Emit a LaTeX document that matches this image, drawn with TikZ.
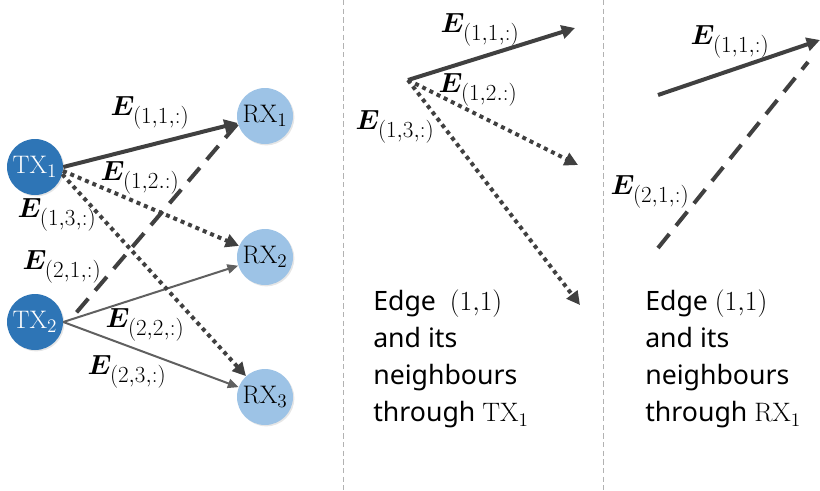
\documentclass[tikz,border=0pt]{standalone}
\usepackage{fontspec}
\usepackage{bm}
\usetikzlibrary{arrows.meta,shadows,calc}
\newfontfamily\labelsans{Noto Sans}
\DeclareMathSizes{22}{22}{17}{13}
\DeclareMathSizes{19}{19}{14}{11}
\DeclareMathSizes{20}{20}{15}{11}
\definecolor{txblue}{HTML}{2E75B6}
\definecolor{rxblue}{HTML}{9DC3E6}
\definecolor{edgegray}{HTML}{404040}
\definecolor{thingray}{HTML}{606060}
\begin{document}
\begin{tikzpicture}[x=0.75pt,y=-0.75pt,
  tx/.style={circle,fill=txblue,minimum size=42pt,inner sep=0pt,text=white,
    font=\fontsize{19}{23}\selectfont,drop shadow={opacity=0.2,shadow xshift=1pt,shadow yshift=-1pt}},
  rx/.style={circle,fill=rxblue,minimum size=42pt,inner sep=0pt,text=black,
    font=\fontsize{19}{23}\selectfont,drop shadow={opacity=0.2,shadow xshift=1pt,shadow yshift=-1pt}},
  solidarr/.style={draw=edgegray,line width=3pt,-{Triangle[length=10pt,width=10pt]}},
  dotarr/.style={draw=edgegray,line width=3pt,dash pattern=on 3pt off 3pt,-{Triangle[length=10pt,width=10pt]}},
  dasharr/.style={draw=edgegray,line width=3pt,dash pattern=on 13.5pt off 8pt},
  thinarr/.style={draw=thingray,line width=1.5pt,-{Triangle[length=8pt,width=7pt]}},
  elabel/.style={font=\fontsize{22}{26}\selectfont,inner sep=0pt},
  caption/.style={font=\labelsans\fontsize{20}{27.75}\selectfont,align=left,anchor=north west,inner sep=0pt},
  divider/.style={draw=gray!60,line width=0.75pt,dash pattern=on 4pt off 2.5pt}]
\useasboundingbox (0,0) rectangle (820,490);

% dividers
\draw[divider] (343,0) -- (343,490);
\draw[divider] (603,0) -- (603,490);

% left panel nodes
\node[tx] (TX1) at (35,167) {$\mathrm{TX}_1$};
\node[tx] (TX2) at (35,322) {$\mathrm{TX}_2$};
\node[rx] (RX1) at (265,116) {$\mathrm{RX}_1$};
\node[rx] (RX2) at (265,257) {$\mathrm{RX}_2$};
\node[rx] (RX3) at (265,397) {$\mathrm{RX}_3$};

% left panel edges
\draw[thinarr] (TX2.east) -- (RX2);
\draw[thinarr] (TX2.east) -- (RX3);
\draw[dasharr] ($(TX2.20)+(15,0)$) -- (RX1.195);
\draw[dotarr] (TX1.-8) -- (RX2);
\draw[dotarr] (TX1.-15) -- (RX3);
\draw[solidarr] (TX1.east) -- (RX1);

% left panel labels
\node[elabel] (L11) at (150,113) {$\bm{E}_{(1,1,:)}$};
\node[elabel] (L12) at (140,178) {$\bm{E}_{(1,2.:)}$};
\node[elabel] (L13) at (57,215) {$\bm{E}_{(1,3,:)}$};
\node[elabel] (L21) at (62,267) {$\bm{E}_{(2,1,:)}$};
\node[elabel] (L22) at (145,325) {$\bm{E}_{(2,2,:)}$};
\node[elabel] (L23) at (127,372) {$\bm{E}_{(2,3,:)}$};

% middle panel
\coordinate (M0) at (408,80);
\coordinate (M1) at (575,28);
\coordinate (M2) at (578,165);
\coordinate (M3) at (580,305);
\draw[dotarr] (M0) -- (M2);
\draw[dotarr] (M0) -- (M3);
\draw[solidarr] (M0) -- (M1);
\node[elabel] (ML11) at (480,30) {$\bm{E}_{(1,1,:)}$};
\node[elabel] (ML12) at (478,90) {$\bm{E}_{(1,2.:)}$};
\node[elabel] (ML13) at (395,127) {$\bm{E}_{(1,3,:)}$};
\node[caption] (C1) at (373,290) {Edge~ $(1{,}1)$\\and its\\neighbours\\through $\mathrm{TX}_1$};

% right panel
\coordinate (R1s) at (658,95);
\coordinate (R1e) at (820,40);
\coordinate (R2s) at (658,248);
\coordinate (R2e) at (808,62);
\draw[dasharr] (R2s) -- (R2e);
\draw[solidarr] (R1s) -- (R1e);
\node[elabel] (RL11) at (730,42) {$\bm{E}_{(1,1,:)}$};
\node[elabel] (RL21) at (650,192) {$\bm{E}_{(2,1,:)}$};
\node[caption] (C2) at (645,290) {Edge $(1{,}1)$\\and its\\neighbours\\through $\mathrm{RX}_1$};
\end{tikzpicture}
\end{document}
